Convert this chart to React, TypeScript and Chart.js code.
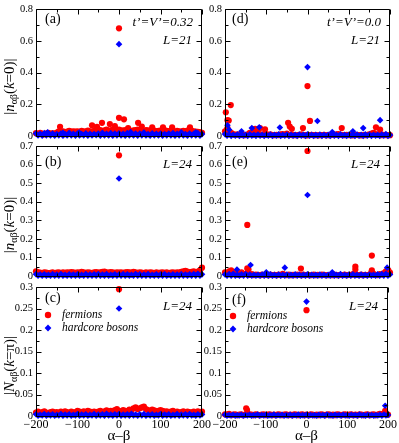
import React, { useEffect, useRef } from "react";
import { Chart, registerables } from "chart.js";

Chart.register(...registerables);

const SERIF = "'Liberation Serif', 'Times New Roman', serif";
const RED = "#ff0000";
const BLUE = "#0000ff";
const W = 399;
const H = 443;

// ---------- data ----------
const alphaBeta = [
  -200, -195, -190, -185, -180, -175, -170, -165, -160, -155,
  -150, -145, -140, -135, -130, -125, -120, -115, -110, -105,
  -100, -95, -90, -85, -80, -75, -70, -65, -60, -55,
  -50, -45, -40, -35, -30, -25, -20, -15, -10, -5,
  0, 5, 10, 15, 20, 25, 30, 35, 40, 45,
  50, 55, 60, 65, 70, 75, 80, 85, 90, 95,
  100, 105, 110, 115, 120, 125, 130, 135, 140, 145,
  150, 155, 160, 165, 170, 175, 180, 185, 190, 195,
  200,
];

const xMajorTicks = [-200, -100, 0, 100, 200];
const xMinorTicks = [-150, -50, 50, 150];

// (a) t'=V'=0.32, L=21, |n(k=0)|
const aFermions = [
  .018, .012, .02, .015, .01, .016, .02, .014, .018, .012,
  .022, .03, .026, .03, .025, .028, .032, .027, .03, .028,
  .03, .026, .032, .028, .03, .034, .03, .028, .033, .036,
  .034, .038, .03, .035, .04, .032, .036, .04, .034, .038,
  .04, .036, .034, .038, .032, .035, .03, .036, .038, .04,
  .036, .034, .03, .038, .035, .032, .03, .034, .03, .032,
  .034, .03, .036, .032, .03, .034, .03, .028, .032, .03,
  .028, .032, .03, .034, .03, .033, .03, .028, .026, .024,
  .02,
];
const aBosons = [
  .016, .003, .014, .002, .018, .004, .012, .003, .015, .002,
  .013, .004, .016, .002, .012, .003, .02, .004, .014, .002,
  .015, .003, .012, .004, .017, .002, .014, .003, .013, .005,
  .016, .002, .02, .004, .014, .003, .018, .002, .015, .004,
  .017, .003, .014, .002, .019, .004, .013, .003, .016, .002,
  .015, .004, .018, .003, .012, .002, .017, .004, .014, .003,
  .016, .002, .013, .004, .015, .003, .019, .002, .014, .004,
  .017, .003, .012, .002, .016, .004, .014, .003, .018, .002,
  .012,
];
const aFermPeakX = [0, 0, 12, -41, -65, -22, -10, -142, 46, 55, 80, 128, 171, -53, 22, 106];
const aFermPeakY = [.68, .115, .105, .083, .068, .075, .062, .058, .083, .06, .055, .055, .055, .058, .05, .055];
const aBosPeakX = [0, -172, -96, 28, 150, -135, 60, 185];
const aBosPeakY = [.58, .024, .022, .025, .023, .02, .022, .024];

// (b) t'=V'=0.32, L=24, |n(k=0)|
const bFermions = [
  .025, .02, .018, .016, .02, .018, .015, .017, .02, .016,
  .018, .02, .016, .019, .017, .02, .018, .021, .019, .017,
  .02, .018, .022, .019, .017, .02, .018, .016, .019, .021,
  .018, .02, .022, .024, .02, .018, .021, .019, .017, .02,
  .018, .02, .017, .019, .021, .02, .018, .022, .019, .017,
  .02, .018, .016, .019, .017, .02, .018, .016, .019, .017,
  .018, .02, .017, .019, .016, .018, .02, .017, .019, .018,
  .022, .025, .028, .024, .02, .022, .025, .02, .024, .03,
  .045,
];
const bBosons = [
  .01, .002, .008, .001, .009, .002, .007, .001, .01, .002,
  .008, .001, .011, .002, .007, .001, .009, .002, .008, .001,
  .009, .002, .007, .001, .01, .002, .008, .001, .009, .002,
  .011, .001, .008, .002, .01, .001, .007, .002, .009, .001,
  .008, .002, .01, .001, .009, .002, .007, .001, .011, .002,
  .009, .001, .008, .002, .01, .001, .007, .002, .009, .001,
  .008, .002, .01, .001, .007, .002, .009, .001, .008, .002,
  .01, .001, .008, .002, .009, .001, .011, .002, .012, .001,
  .009,
];
const bFermPeakX = [0];
const bFermPeakY = [.65];
const bBosPeakX = [0];
const bBosPeakY = [.525];

// (c) t'=V'=0.32, L=24, |N(k=pi)|
const cFermions = [
  .008, .01, .007, .009, .011, .008, .006, .009, .01, .008,
  .009, .007, .01, .008, .011, .009, .007, .01, .008, .009,
  .012, .01, .008, .011, .009, .012, .01, .008, .01, .009,
  .01, .012, .009, .011, .013, .01, .012, .011, .014, .016,
  .012, .01, .014, .012, .011, .015, .013, .018, .02, .016,
  .018, .02, .022, .016, .014, .012, .015, .013, .011, .012,
  .014, .012, .01, .011, .009, .01, .012, .009, .01, .008,
  .009, .011, .008, .01, .009, .008, .01, .009, .011, .008,
  .01,
];
const cBosons = [
  .004, .0005, .003, .001, .0045, .0005, .0035, .001, .004, .0005,
  .003, .001, .0045, .0005, .0035, .001, .004, .0005, .003, .001,
  .0045, .0005, .0035, .001, .004, .0005, .003, .001, .0045, .0005,
  .0035, .001, .004, .0005, .005, .001, .0035, .0005, .004, .001,
  .0045, .0005, .0035, .001, .004, .0005, .005, .001, .0035, .0005,
  .004, .001, .0045, .0005, .0035, .001, .004, .0005, .003, .001,
  .0045, .0005, .0035, .001, .004, .0005, .003, .001, .0045, .0005,
  .0035, .001, .004, .0005, .0045, .001, .003, .0005, .004, .001,
  .0035,
];
const cFermPeakX = [0];
const cFermPeakY = [.295];
const cBosPeakX = [0];
const cBosPeakY = [.25];

// (d) t'=V'=0.0, L=21, |n(k=0)|
const dFermions = [
  .03, .04, .025, .02, .012, .008, .01, .006, .008, .005,
  .006, .01, .02, .015, .03, .025, .02, .008, .01, .006,
  .012, .008, .01, .006, .005, .008, .006, .01, .012, .008,
  .015, .006, .008, .005, .006, .004, .008, .01, .006, .005,
  .004, .006, .008, .005, .006, .004, .005, .006, .008, .004,
  .006, .005, .008, .006, .01, .012, .008, .006, .005, .008,
  .006, .005, .004, .006, .008, .005, .004, .006, .005, .008,
  .01, .015, .02, .012, .008, .006, .005, .008, .006, .004,
  .005,
];
const dBosons = [
  .012, .002, .01, .001, .008, .002, .009, .001, .007, .002,
  .008, .001, .01, .002, .007, .001, .009, .002, .008, .001,
  .007, .002, .009, .001, .008, .002, .01, .001, .007, .002,
  .009, .001, .008, .002, .007, .001, .009, .002, .008, .001,
  .01, .002, .008, .001, .007, .002, .009, .001, .008, .002,
  .007, .001, .009, .002, .008, .001, .01, .002, .007, .001,
  .008, .002, .007, .001, .009, .002, .008, .001, .01, .002,
  .009, .001, .008, .002, .007, .001, .009, .002, .012, .001,
  .006,
];
const dFermPeakX = [-198, -186, -194, -191, -194, -127, -115, -103, -47, -43, -38, -11, 0, 6, 83, 166, 176];
const dFermPeakY = [.15, .195, .1, .098, .05, .045, .05, .042, .083, .06, .045, .05, .315, .095, .05, .055, .04];
const dBosPeakX = [0, -194, -190, -135, -117, -67, 24, 135, 176, -160, 60, 110];
const dBosPeakY = [.435, .068, .04, .05, .055, .054, .095, .05, .1, .03, .025, .03];

// (e) t'=V'=0.0, L=24, |n(k=0)|
const eFermions = [
  .02, .015, .025, .01, .018, .008, .012, .006, .02, .01,
  .012, .008, .006, .01, .005, .008, .006, .004, .007, .005,
  .006, .004, .008, .005, .006, .004, .007, .005, .012, .006,
  .005, .007, .004, .006, .005, .008, .006, .004, .007, .005,
  .006, .004, .005, .007, .004, .006, .005, .008, .006, .004,
  .005, .006, .004, .007, .005, .004, .006, .005, .007, .004,
  .006, .005, .01, .008, .006, .005, .007, .004, .006, .005,
  .008, .02, .012, .006, .005, .01, .008, .015, .012, .02,
  .018,
];
const eBosons = [
  .008, .001, .01, .002, .012, .001, .007, .002, .009, .001,
  .011, .002, .008, .001, .007, .002, .006, .001, .008, .002,
  .007, .001, .009, .002, .006, .001, .008, .002, .007, .001,
  .008, .002, .006, .001, .009, .002, .007, .001, .006, .002,
  .009, .001, .007, .002, .006, .001, .008, .002, .007, .001,
  .006, .002, .008, .001, .007, .002, .01, .001, .006, .002,
  .007, .001, .009, .002, .006, .001, .008, .002, .007, .001,
  .008, .002, .006, .001, .009, .002, .01, .001, .012, .002,
  .008,
];
const eFermPeakX = [0, -146, -146, -143, 156, 116, 116, 156, -16, -185, 190, 196];
const eFermPeakY = [.673, .275, .041, .035, .11, .05, .035, .03, .04, .03, .025, .03];
const eBosPeakX = [0, -138, -171, -55, 193, -100, 60];
const eBosPeakY = [.436, .059, .035, .045, .045, .02, .02];

// (f) t'=V'=0.0, L=24, |N(k=pi)|
const fFermions = [
  .004, .003, .005, .002, .003, .004, .002, .003, .004, .002,
  .003, .006, .004, .003, .002, .004, .003, .002, .003, .004,
  .002, .003, .004, .002, .003, .002, .004, .003, .002, .003,
  .004, .002, .003, .002, .004, .003, .002, .003, .004, .002,
  .003, .002, .004, .003, .002, .003, .002, .004, .003, .002,
  .003, .004, .002, .003, .002, .004, .003, .002, .003, .004,
  .002, .003, .004, .002, .003, .002, .004, .003, .002, .003,
  .004, .002, .003, .004, .002, .003, .005, .004, .006, .004,
  .003,
];
const fBosons = [
  .003, .0005, .0025, .001, .003, .0005, .002, .001, .003, .0005,
  .0025, .001, .003, .0005, .002, .001, .0035, .0005, .0025, .001,
  .003, .0005, .002, .001, .0035, .0005, .0025, .001, .003, .0005,
  .002, .001, .003, .0005, .0025, .001, .0035, .0005, .002, .001,
  .003, .0005, .0025, .001, .002, .0005, .003, .001, .0025, .0005,
  .0035, .001, .002, .0005, .003, .001, .0025, .0005, .003, .001,
  .002, .0005, .003, .001, .0025, .0005, .0035, .001, .002, .0005,
  .003, .001, .0025, .0005, .002, .001, .003, .0005, .0035, .001,
  .0025,
];
const fFermPeakX = [0, -148, -146, 193];
const fFermPeakY = [.246, .018, .014, .012];
const fBosPeakX = [0, 193];
const fBosPeakY = [.266, .024];

// ---------- layout ----------
const COL_LEFT = [36, 225];
const COL_RIGHT = [202, 390];
const ROW_TOP = [7, 146, 287];
const ROW_BOTTOM = [136, 276, 416];
const Y_AXIS_W = 36;
const X_AXIS_H = 27;

type PanelSpec = {
  key: string;
  col: number;
  row: number;
  yMax: number;
  yStep: number;
  fermBand: number[];
  bosBand: number[];
  fermPeakX: number[];
  fermPeakY: number[];
  bosPeakX: number[];
  bosPeakY: number[];
  tag: string;
  param?: string;
  size: string;
  tagDy: number;
  sizeDy: number;
  legend: boolean;
  legendDx: number;
  legendDy: number;
  yLetter: string;
  kValue: string;
};

const panels: PanelSpec[] = [
  { key: "a", col: 0, row: 0, yMax: 0.8, yStep: 0.2, fermBand: aFermions, bosBand: aBosons, fermPeakX: aFermPeakX, fermPeakY: aFermPeakY, bosPeakX: aBosPeakX, bosPeakY: aBosPeakY, tag: "(a)", param: "t’=V’=0.32", size: "L=21", tagDy: 10, sizeDy: 31, legend: false, legendDx: 0, legendDy: 0, yLetter: "n", kValue: "0" },
  { key: "b", col: 0, row: 1, yMax: 0.7, yStep: 0.1, fermBand: bFermions, bosBand: bBosons, fermPeakX: bFermPeakX, fermPeakY: bFermPeakY, bosPeakX: bBosPeakX, bosPeakY: bBosPeakY, tag: "(b)", size: "L=24", tagDy: 16, sizeDy: 19, legend: false, legendDx: 0, legendDy: 0, yLetter: "n", kValue: "0" },
  { key: "c", col: 0, row: 2, yMax: 0.3, yStep: 0.05, fermBand: cFermions, bosBand: cBosons, fermPeakX: cFermPeakX, fermPeakY: cFermPeakY, bosPeakX: cBosPeakX, bosPeakY: cBosPeakY, tag: "(c)", size: "L=24", tagDy: 11, sizeDy: 20, legend: true, legendDx: 12, legendDy: 28, yLetter: "N", kValue: "π" },
  { key: "d", col: 1, row: 0, yMax: 0.8, yStep: 0.2, fermBand: dFermions, bosBand: dBosons, fermPeakX: dFermPeakX, fermPeakY: dFermPeakY, bosPeakX: dBosPeakX, bosPeakY: dBosPeakY, tag: "(d)", param: "t’=V’=0.0", size: "L=21", tagDy: 10, sizeDy: 31, legend: false, legendDx: 0, legendDy: 0, yLetter: "", kValue: "" },
  { key: "e", col: 1, row: 1, yMax: 0.7, yStep: 0.1, fermBand: eFermions, bosBand: eBosons, fermPeakX: eFermPeakX, fermPeakY: eFermPeakY, bosPeakX: eBosPeakX, bosPeakY: eBosPeakY, tag: "(e)", size: "L=24", tagDy: 16, sizeDy: 19, legend: false, legendDx: 0, legendDy: 0, yLetter: "", kValue: "" },
  { key: "f", col: 1, row: 2, yMax: 0.3, yStep: 0.05, fermBand: fFermions, bosBand: fBosons, fermPeakX: fFermPeakX, fermPeakY: fFermPeakY, bosPeakX: fBosPeakX, bosPeakY: fBosPeakY, tag: "(f)", size: "L=24", tagDy: 13, sizeDy: 20, legend: true, legendDx: 8, legendDy: 29, yLetter: "", kValue: "" },
];

// ---------- drawing helpers ----------
function drawDiamond(ctx: CanvasRenderingContext2D, x: number, y: number, r: number) {
  ctx.beginPath();
  ctx.moveTo(x, y - r);
  ctx.lineTo(x + r, y);
  ctx.lineTo(x, y + r);
  ctx.lineTo(x - r, y);
  ctx.closePath();
  ctx.fill();
}

function drawYTitle(ctx: CanvasRenderingContext2D, letter: string, k: string, cx: number, cy: number) {
  const size = 15;
  const sub = 10;
  const segs = [
    { t: "|", f: `${size}px ${SERIF}`, dy: 0 },
    { t: letter, f: `italic ${size}px ${SERIF}`, dy: 0 },
    { t: "αβ", f: `${sub}px ${SERIF}`, dy: 4 },
    { t: "(", f: `${size}px ${SERIF}`, dy: 0 },
    { t: "k", f: `italic ${size}px ${SERIF}`, dy: 0 },
    { t: "=" + k + ")|", f: `${size}px ${SERIF}`, dy: 0 },
  ];
  let total = 0;
  const widths = segs.map((s) => {
    ctx.font = s.f;
    const w = ctx.measureText(s.t).width;
    total += w;
    return w;
  });
  ctx.save();
  ctx.translate(cx, cy);
  ctx.rotate(-Math.PI / 2);
  ctx.textAlign = "left";
  ctx.textBaseline = "middle";
  ctx.fillStyle = "#000";
  let x = -total / 2;
  segs.forEach((s, i) => {
    ctx.font = s.f;
    ctx.fillText(s.t, x, s.dy);
    x += widths[i];
  });
  ctx.restore();
}

function makeOverlay(p: PanelSpec) {
  return {
    id: "overlay_" + p.key,
    afterDatasetsDraw(chart: any) {
      const ctx: CanvasRenderingContext2D = chart.ctx;
      const a = chart.chartArea;
      const xs = chart.scales.x;
      const ys = chart.scales.y;
      ctx.save();
      ctx.strokeStyle = "#000";
      ctx.lineWidth = 1;
      const L = Math.round(a.left) + 0.5;
      const R = Math.round(a.right) - 0.5;
      const T = Math.round(a.top) + 0.5;
      const B = Math.round(a.bottom) + 0.5;
      ctx.beginPath();
      ctx.rect(L, T, R - L, B - T);
      // x ticks
      const xTick = (v: number, len: number) => {
        const px = Math.round(xs.getPixelForValue(v)) + 0.5;
        ctx.moveTo(px, T);
        ctx.lineTo(px, T + len);
        ctx.moveTo(px, B);
        ctx.lineTo(px, B - len);
      };
      xMajorTicks.forEach((v) => xTick(v, 5));
      xMinorTicks.forEach((v) => xTick(v, 3));
      // y ticks
      const minor = p.yStep / 2;
      const n = Math.round(p.yMax / minor);
      for (let i = 0; i <= n; i++) {
        const v = i * minor;
        const len = i % 2 === 0 ? 5 : 3;
        const py = Math.round(ys.getPixelForValue(v)) + 0.5;
        ctx.moveTo(L, py);
        ctx.lineTo(L + len, py);
        ctx.moveTo(R, py);
        ctx.lineTo(R - len, py);
      }
      ctx.stroke();

      ctx.fillStyle = "#000";
      ctx.textBaseline = "middle";
      // panel tag
      ctx.font = `14px ${SERIF}`;
      ctx.textAlign = "left";
      ctx.fillText(p.tag, a.left + (p.col === 0 ? 9 : 7), a.top + p.tagDy);
      // parameters
      ctx.font = `italic 13px ${SERIF}`;
      ctx.textAlign = "right";
      if (p.param) ctx.fillText(p.param, a.right - 9, a.top + 13);
      ctx.fillText(p.size, a.right - 10, a.top + p.sizeDy);
      // legend
      if (p.legend) {
        const mx = a.left + p.legendDx;
        const y1 = a.top + p.legendDy;
        const y2 = y1 + 13;
        ctx.fillStyle = RED;
        ctx.beginPath();
        ctx.arc(mx, y1, 3.2, 0, Math.PI * 2);
        ctx.fill();
        ctx.fillStyle = BLUE;
        drawDiamond(ctx, mx, y2, 3.4);
        ctx.fillStyle = "#000";
        ctx.textAlign = "left";
        ctx.font = `italic 11.5px ${SERIF}`;
        ctx.fillText("fermions", mx + 14, y1);
        ctx.fillText("hardcore bosons", mx + 14, y2);
      }
      // x title
      if (p.row === 2) {
        ctx.font = `15px ${SERIF}`;
        ctx.textAlign = "center";
        ctx.fillText("α–β", (a.left + a.right) / 2, 436);
      }
      // y title
      if (p.col === 0) {
        drawYTitle(ctx, p.yLetter, p.kValue, 10, (a.top + a.bottom) / 2 + 14);
      }
      ctx.restore();
    },
  };
}

function Panel({ p }: { p: PanelSpec }) {
  const ref = useRef<HTMLCanvasElement>(null);
  useEffect(() => {
    const canvas = ref.current;
    if (!canvas) return;
    const left = COL_LEFT[p.col];
    const right = COL_RIGHT[p.col];
    const top = ROW_TOP[p.row];
    const bottom = ROW_BOTTOM[p.row];
    const showX = p.row === 2;
    const padding = {
      left: left - Y_AXIS_W,
      right: W - right,
      top,
      bottom: showX ? H - bottom - X_AXIS_H : H - bottom,
    };
    const fermPts = alphaBeta
      .map((x, i) => ({ x, y: p.fermBand[i] }))
      .concat(p.fermPeakX.map((x, i) => ({ x, y: p.fermPeakY[i] })));
    const bosPts = alphaBeta
      .map((x, i) => ({ x, y: p.bosBand[i] }))
      .concat(p.bosPeakX.map((x, i) => ({ x, y: p.bosPeakY[i] })));
    const tickFont = { family: SERIF, size: 10.5 };
    const chart = new Chart(canvas, {
      type: "scatter",
      data: {
        datasets: [
          {
            label: "hardcore bosons",
            data: bosPts,
            pointStyle: "rectRot",
            pointRadius: 3.3,
            backgroundColor: BLUE,
            borderColor: BLUE,
            borderWidth: 0,
            clip: false,
          } as any,
          {
            label: "fermions",
            data: fermPts,
            pointStyle: "circle",
            pointRadius: 3.1,
            backgroundColor: RED,
            borderColor: RED,
            borderWidth: 0,
            clip: false,
          } as any,
        ],
      },
      options: {
        responsive: false,
        animation: false,
        events: [],
        layout: { padding },
        plugins: { legend: { display: false }, tooltip: { enabled: false } },
        scales: {
          x: {
            type: "linear",
            min: -200,
            max: 200,
            grid: { display: false, drawTicks: false },
            border: { display: false },
            ticks: {
              display: showX,
              stepSize: 100,
              autoSkip: false,
              maxRotation: 0,
              padding: 2,
              color: "#000",
              font: { family: SERIF, size: 12 },
              callback: (v: any) => {
                const n = Number(v);
                return n < 0 ? "−" + Math.abs(n) : String(n);
              },
            },
            afterFit: (s: any) => {
              s.height = showX ? X_AXIS_H : 0;
            },
          },
          y: {
            type: "linear",
            min: 0,
            max: p.yMax,
            grid: { display: false, drawTicks: false },
            border: { display: false },
            ticks: {
              stepSize: p.yStep,
              autoSkip: false,
              padding: 3,
              color: "#000",
              font: tickFont,
              callback: (v: any) => {
                const r = Math.round(Number(v) * 1000) / 1000;
                return r === 0 ? "0" : String(r);
              },
            },
            afterFit: (s: any) => {
              s.width = Y_AXIS_W;
            },
          },
        },
      } as any,
      plugins: [makeOverlay(p)],
    });
    return () => chart.destroy();
  }, [p]);
  return (
    <canvas
      ref={ref}
      width={W}
      height={H}
      style={{ position: "absolute", left: 0, top: 0, width: W, height: H }}
    />
  );
}

export default function App() {
  return (
    <div
      style={{
        position: "fixed",
        left: 0,
        top: 0,
        width: W,
        height: H,
        background: "#fff",
        overflow: "hidden",
      }}
    >
      {panels.map((p) => (
        <Panel key={p.key} p={p} />
      ))}
    </div>
  );
}
